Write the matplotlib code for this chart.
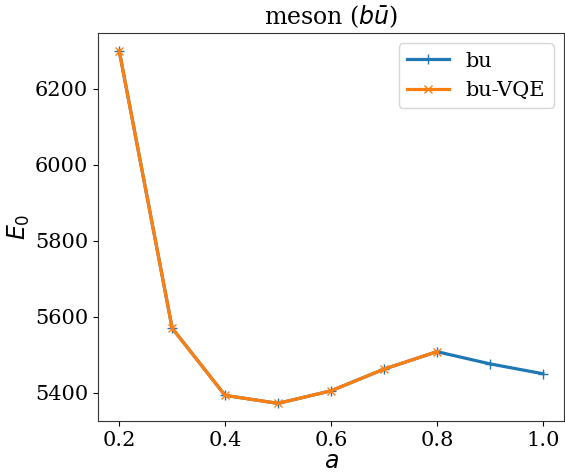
import matplotlib
matplotlib.use("Agg")
import matplotlib.pyplot as plt

a_bu = [0.2, 0.3, 0.4, 0.5, 0.6, 0.7, 0.8, 0.9, 1.0]
e_bu = [6300, 5570, 5393, 5372, 5405, 5462, 5508, 5476, 5450]

a_vqe = [0.2, 0.3, 0.4, 0.5, 0.6, 0.7, 0.8]
e_vqe = [6300, 5570, 5393, 5372, 5405, 5462, 5508]

plt.rcParams["font.family"] = "DejaVu Serif"
plt.rcParams["mathtext.fontset"] = "dejavusans"

fig = plt.figure(figsize=(5.65, 4.73), dpi=100)
ax = fig.add_axes([98 / 565, 1 - 421 / 473, 466 / 565, 388 / 473])

ax.plot(a_bu, e_bu, marker="+", markersize=7, linewidth=2.3, label="bu")
ax.plot(a_vqe, e_vqe, marker="x", markersize=6, linewidth=2.3, label="bu-VQE")

ax.set_xlabel("$a$", fontsize=17, labelpad=0)
ax.set_ylabel("$E_0$", fontsize=17, labelpad=2)
ax.set_title(r"meson ($b\bar{u}$)", fontsize=17)
ax.tick_params(labelsize=15)
for s in ax.spines.values():
    s.set_color("#333333")
ax.legend(fontsize=15, loc="upper right", handlelength=2.0)

plt.savefig("out.png", dpi=100)
